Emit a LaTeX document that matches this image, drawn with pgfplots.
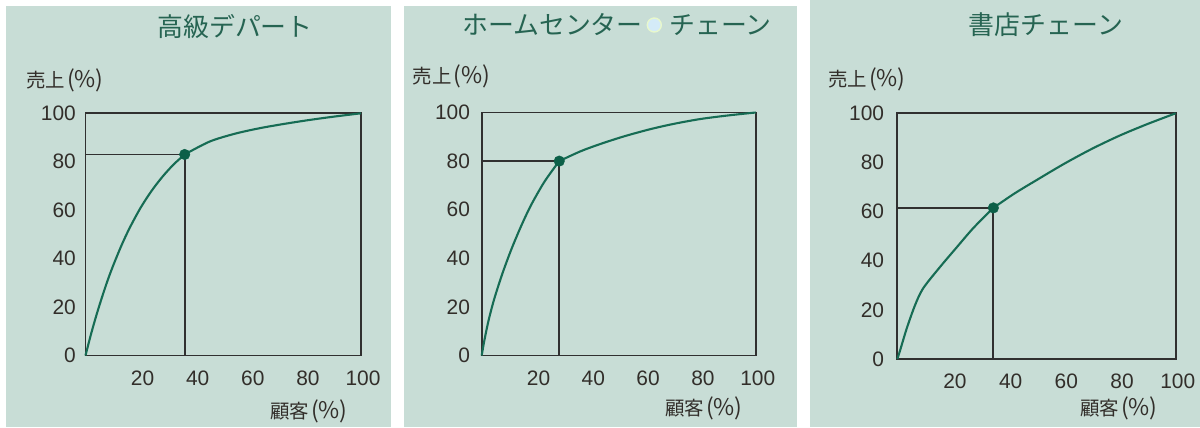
\documentclass[border=0pt]{standalone}
\usepackage{fontspec}
\usepackage{pgfplots}
\pgfplotsset{compat=1.18}
\setmainfont{Liberation Sans}
\newfontfamily\jp{Noto Sans CJK JP}

\definecolor{panelbg}{RGB}{200,221,214}
\definecolor{titlegreen}{RGB}{38,100,82}
\definecolor{curvegreen}{RGB}{22,108,84}
\definecolor{markgreen}{RGB}{12,96,72}
\definecolor{framegray}{RGB}{48,48,48}
\definecolor{labeltext}{RGB}{50,46,42}
\definecolor{dotblue}{RGB}{212,235,248}
\definecolor{dotrim}{RGB}{232,248,205}

\pgfplotsset{
  pareto/.style={
    scale only axis,
    xmin=0, xmax=100, ymin=0, ymax=100,
    clip=false,
    axis line style={framegray, line width=1.9bp},
    major tick length=0pt,
    xtick={20,40,60,80,100},
    ytick={0,20,40,60,80,100},
    /pgf/number format/assume math mode=true,
    tick label style={font=\fontsize{21}{22}\selectfont, text=labeltext, inner sep=0pt},
    xticklabel style={anchor=north, yshift=-15bp, xshift=2bp},
  },
  curve/.style={curvegreen, line width=2.1bp, smooth, tension=0.5, no marks},
  guide/.style={framegray, line width=1.8bp, sharp plot, no marks},
  point/.style={only marks, mark=*, mark size=5.3bp, mark options={draw=markgreen, fill=markgreen}},
}

\newcommand{\titlefont}{\jp\fontsize{26}{28}\selectfont}
% axis caption: two kanji followed by a wide "(%)"
\newcommand{\axcap}[1]{{\jp\fontsize{19.5}{20}\selectfont #1}\hspace{2bp}{\jp\fontsize{23}{24}\selectfont(\%)}}

\begin{document}
\begin{tikzpicture}[x=1bp, y=1bp]
\useasboundingbox (0,0) rectangle (1200,427);

% panel backgrounds
\fill[panelbg] (6,0) rectangle (391,421);
\fill[panelbg] (404,0) rectangle (797,421);
\fill[panelbg] (810,0) rectangle (1200,427);

% ---------------- 高級デパート ----------------
\node[text=titlegreen, font=\titlefont] at (235,400.5) {高級デパート};
\node[anchor=west, text=labeltext, inner sep=0pt] at (26,346.3) {\axcap{売上}};
\node[anchor=west, text=labeltext, inner sep=0pt] at (270,15.3) {\axcap{顧客}};
\begin{axis}[pareto, at={(85.5bp,71.5bp)}, anchor=south west,
    width=275.5bp, height=242.2bp,
    yticklabel style={anchor=east, xshift=-9.5bp}]
  \addplot[guide] coordinates {(0,83) (36,83) (36,0)};
  \addplot[curve] coordinates {(0,0) (2,8.8) (4,16.8) (6,24.1) (8,30.9) (10,37) (13,45.3) (16,52.6) (20,61) (24,68) (28,73.9) (32,78.9) (36,83)};
  \addplot[curve] coordinates {(36,83) (45,88.3) (54,91.5) (63,93.8) (72,95.6) (81,97.2) (90,98.6) (100,100)};
  \addplot[point] coordinates {(36,83)};
\end{axis}

% ---------------- ホームセンター・チェーン ----------------
\node[anchor=east, text=titlegreen, font=\titlefont, inner sep=0pt] at (643,402) {ホームセンター};
\fill[dotblue, draw=dotrim, line width=1.4bp] (654.3,402) circle (7);
\node[anchor=west, text=titlegreen, font=\titlefont, inner sep=0pt] at (669,402) {チェーン};
\node[anchor=west, text=labeltext, inner sep=0pt] at (412.7,350.3) {\axcap{売上}};
\node[anchor=west, text=labeltext, inner sep=0pt] at (665,18.7) {\axcap{顧客}};
\begin{axis}[pareto, at={(481.7bp,71.5bp)}, anchor=south west,
    width=274bp, height=243bp,
    yticklabel style={anchor=east, xshift=-11.5bp}]
  \addplot[guide] coordinates {(0,80) (28.3,80) (28.3,0)};
  \addplot[curve] coordinates {(0,0) (1,6.4) (2.5,14.4) (4.5,23) (7.3,32.9) (10,41.3) (12.2,47.5) (15,54.8) (18.2,62.3) (23,71.7) (28.3,80)};
  \addplot[curve] coordinates {(28.3,80) (36,84) (43.2,87) (52,90.2) (61.4,93.1) (70,95.3) (79.7,97.3) (90,98.8) (100,100)};
  \addplot[point] coordinates {(28.3,80)};
\end{axis}

% ---------------- 書店チェーン ----------------
\node[text=titlegreen, font=\titlefont] at (1046,402) {書店チェーン};
\node[anchor=west, text=labeltext, inner sep=0pt] at (828,347.7) {\axcap{売上}};
\node[anchor=west, text=labeltext, inner sep=0pt] at (1080,18.7) {\axcap{顧客}};
\begin{axis}[pareto, at={(897.3bp,68bp)}, anchor=south west,
    width=278.4bp, height=245.7bp,
    yticklabel style={anchor=east, xshift=-13bp}]
  \addplot[guide] coordinates {(0,61.5) (34.5,61.5) (34.5,0)};
  \addplot[curve] coordinates {(0,0) (1,3.5) (3.4,12.5) (6.4,22) (9.3,28.8) (15.3,37.4) (21.3,45.4) (27.3,53.3) (34.5,61.5)};
  \addplot[curve] coordinates {(34.5,61.5) (42,67.3) (50,72.8) (60,79.5) (70,85.6) (80,91) (90,95.7) (100,100)};
  \addplot[point] coordinates {(34.5,61.5)};
\end{axis}
\end{tikzpicture}
\end{document}
